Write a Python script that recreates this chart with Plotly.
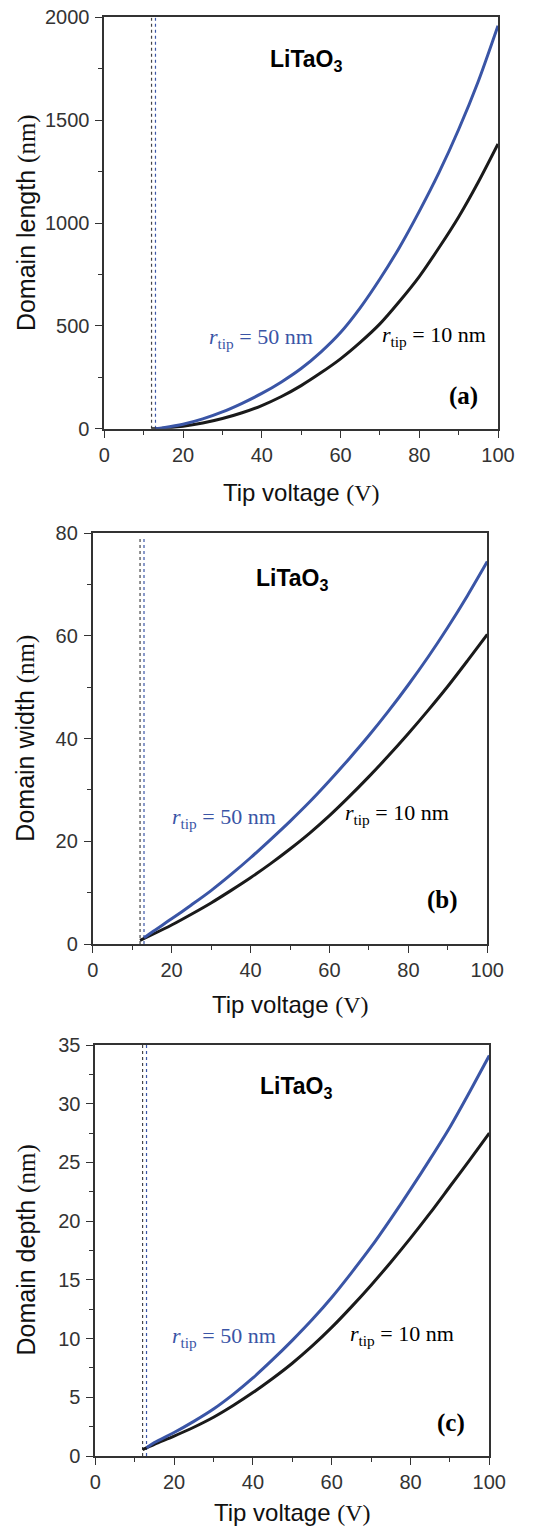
import plotly.graph_objects as go

# ---------------- data ----------------
V_10 = [12, 15, 20, 25, 30, 35, 40, 45, 50, 55, 60, 65, 70, 75, 80, 85, 90, 95, 100]
V_50 = [13, 15, 20, 25, 30, 35, 40, 45, 50, 55, 60, 65, 70, 75, 80, 85, 90, 95, 100]

length_10 = [0, 3, 12, 28, 50, 78, 113, 157, 210, 272, 340, 420, 510, 620, 740, 880, 1030, 1200, 1385]
length_50 = [0, 5, 22, 48, 82, 124, 172, 228, 293, 373, 468, 588, 728, 883, 1057, 1245, 1455, 1690, 1960]

width_10 = [0.7, 1.8, 3.7, 5.8, 8.0, 10.4, 12.9, 15.6, 18.5, 21.6, 25.0, 28.7, 32.6, 36.7, 41.0, 45.5, 50.2, 55.2, 60.3]
width_50 = [1.2, 2.3, 4.9, 7.6, 10.4, 13.5, 16.8, 20.3, 23.9, 27.7, 31.8, 36.1, 40.6, 45.4, 50.5, 55.9, 61.7, 67.9, 74.5]

depth_10 = [0.55, 1.0, 1.7, 2.45, 3.3, 4.3, 5.4, 6.6, 7.9, 9.35, 10.95, 12.7, 14.55, 16.5, 18.55, 20.7, 22.95, 25.2, 27.5]
depth_50 = [0.7, 1.15, 2.0, 2.95, 4.0, 5.25, 6.65, 8.2, 9.85, 11.6, 13.5, 15.6, 17.8, 20.2, 22.7, 25.3, 28.0, 31.0, 34.1]

threshold_10 = 12
threshold_50 = 13

y_titles = ["Domain length", "Domain width", "Domain depth"]
panel_tags = ["(a)", "(b)", "(c)"]
x_ticks = [0, 20, 40, 60, 80, 100]

# ---------------- styling / layout ----------------
W, H = 545, 1528
BLUE = "#3a55a6"
BLACK = "#1a1a1a"
AX = "#333333"

# panel pixel boxes: (left, right, top, bottom)
boxes = [(104.3, 498.0, 17.4, 428.8),
         (92.7, 487.3, 533.3, 944.0),
         (95.3, 489.3, 1045.0, 1456.0)]
y_ranges = [[0, 2000], [0, 80], [0, 35]]
y_dticks = [500, 20, 5]
y_minor = [250, 10, 2.5]
dotted_top = [2000, 79, 35]

series = [(length_10, length_50), (width_10, width_50), (depth_10, depth_50)]

# annotation positions (data coords)
litao_pos = [(51.2, 1790), (50.4, 71.0), (50.9, 31.4)]
blue_lab = [(26.0, 440), (19.6, 24.6), (19.0, 10.1)]
black_lab = [(70.0, 452), (63.5, 25.3), (64.2, 10.3)]
tag_pos = [(95.5, 158), (93.2, 8.6), (94.3, 2.8)]
xtitle_off = [64, 60, 56]

fig = go.Figure()
annotations = []

for i in range(3):
    n = i + 1
    sfx = "" if n == 1 else str(n)
    xa, ya = f"x{sfx}", f"y{sfx}"
    l, r, t, b = boxes[i]
    xdom = [l / W, r / W]
    ydom = [1 - b / H, 1 - t / H]
    s10, s50 = series[i]

    # dotted threshold lines
    fig.add_trace(go.Scatter(x=[threshold_10, threshold_10], y=[0, dotted_top[i]], mode="lines",
                             line=dict(color="#444444", width=1.2, dash="dot"),
                             xaxis=xa, yaxis=ya, showlegend=False, hoverinfo="skip"))
    fig.add_trace(go.Scatter(x=[threshold_50, threshold_50], y=[0, dotted_top[i]], mode="lines",
                             line=dict(color=BLUE, width=1.2, dash="dot"),
                             xaxis=xa, yaxis=ya, showlegend=False, hoverinfo="skip"))
    # curves
    fig.add_trace(go.Scatter(x=V_10, y=s10, mode="lines",
                             line=dict(color=BLACK, width=3, shape="spline", smoothing=0.8),
                             xaxis=xa, yaxis=ya, showlegend=False))
    fig.add_trace(go.Scatter(x=V_50, y=s50, mode="lines",
                             line=dict(color=BLUE, width=3, shape="spline", smoothing=0.8),
                             xaxis=xa, yaxis=ya, showlegend=False))

    tickfont = dict(family="Liberation Sans, Arial", size=20, color=AX)
    fig.layout[f"xaxis{sfx}"] = dict(
        domain=xdom, range=[0, 100], anchor=ya, tickmode="array", tickvals=x_ticks,
        ticks="outside", ticklen=7, tickwidth=1.4, tickcolor=AX,
        minor=dict(dtick=10, tick0=0, ticks="outside", ticklen=4, tickwidth=1.2, tickcolor=AX),
        showline=True, linecolor=AX, linewidth=1.7, mirror=True,
        showgrid=False, zeroline=False, tickfont=tickfont, automargin=False)
    fig.layout[f"yaxis{sfx}"] = dict(
        domain=ydom, range=y_ranges[i], anchor=xa, dtick=y_dticks[i], tick0=0,
        ticks="outside", ticklen=7, tickwidth=1.4, tickcolor=AX,
        minor=dict(dtick=y_minor[i], tick0=0, ticks="outside", ticklen=4, tickwidth=1.2, tickcolor=AX),
        showline=True, linecolor=AX, linewidth=1.7, mirror=True, ticklabelstandoff=2,
        showgrid=False, zeroline=False, tickfont=tickfont, automargin=False)
    # overlay axes for inward ticks on top / right
    ox, oy = 3 + n, 3 + n
    fig.layout[f"xaxis{ox}"] = dict(
        overlaying=xa, side="top", anchor=ya, range=[0, 100], tickmode="array", tickvals=x_ticks,
        ticks="inside", ticklen=7, tickwidth=1.4, tickcolor=AX,
        minor=dict(dtick=10, tick0=0, ticks="inside", ticklen=4, tickwidth=1.2, tickcolor=AX),
        showticklabels=False, showline=False, showgrid=False, zeroline=False)
    fig.layout[f"yaxis{oy}"] = dict(
        overlaying=ya, side="right", anchor=xa, range=y_ranges[i], dtick=y_dticks[i], tick0=0,
        ticks="inside", ticklen=7, tickwidth=1.4, tickcolor=AX,
        minor=dict(dtick=y_minor[i], tick0=0, ticks="inside", ticklen=4, tickwidth=1.2, tickcolor=AX),
        showticklabels=False, showline=False, showgrid=False, zeroline=False)

    # text annotations
    annotations.append(dict(xref=xa, yref=ya, x=litao_pos[i][0], y=litao_pos[i][1],
                            xanchor="center", yanchor="middle",
                            text="<b>LiTaO<sub>3</sub></b>", showarrow=False,
                            font=dict(family="Liberation Sans, Arial", size=23, color="#000")))
    annotations.append(dict(xref=xa, yref=ya, x=blue_lab[i][0], y=blue_lab[i][1],
                            xanchor="left", yanchor="middle",
                            text="<i>r</i><sub>tip</sub> = 50 nm", showarrow=False,
                            font=dict(family="Liberation Serif, Times New Roman", size=22, color=BLUE)))
    annotations.append(dict(xref=xa, yref=ya, x=black_lab[i][0], y=black_lab[i][1],
                            xanchor="left", yanchor="middle",
                            text="<i>r</i><sub>tip</sub> = 10 nm", showarrow=False,
                            font=dict(family="Liberation Serif, Times New Roman", size=22, color="#000")))
    annotations.append(dict(xref=xa, yref=ya, x=tag_pos[i][0], y=tag_pos[i][1],
                            xanchor="right", yanchor="middle",
                            text=f"<b>{panel_tags[i]}</b>", showarrow=False,
                            font=dict(family="Liberation Serif, Times New Roman", size=25, color="#000")))
    # axis titles
    annotations.append(dict(xref="paper", yref="paper", x=26 / W, y=1 - (t + b) / 2 / H,
                            xanchor="center", yanchor="middle",
                            textangle=-90, showarrow=False,
                            text=f'{y_titles[i]} <span style="font-family:Liberation Serif">(nm)</span>',
                            font=dict(family="Liberation Sans, Arial", size=25, color="#111")))
    annotations.append(dict(xref="paper", yref="paper", x=(l + r) / 2 / W, y=1 - (b + xtitle_off[i]) / H,
                            xanchor="center", yanchor="middle", showarrow=False,
                            text='Tip voltage <span style="font-family:Liberation Serif">(V)</span>',
                            font=dict(family="Liberation Sans, Arial", size=24, color="#111")))

fig.update_layout(width=W, height=H, margin=dict(l=0, r=0, t=0, b=0),
                  paper_bgcolor="white", plot_bgcolor="white",
                  annotations=annotations, showlegend=False)

fig.write_html("out.html", config={"displayModeBar": False},
               post_script="document.body.style.margin='0';")
